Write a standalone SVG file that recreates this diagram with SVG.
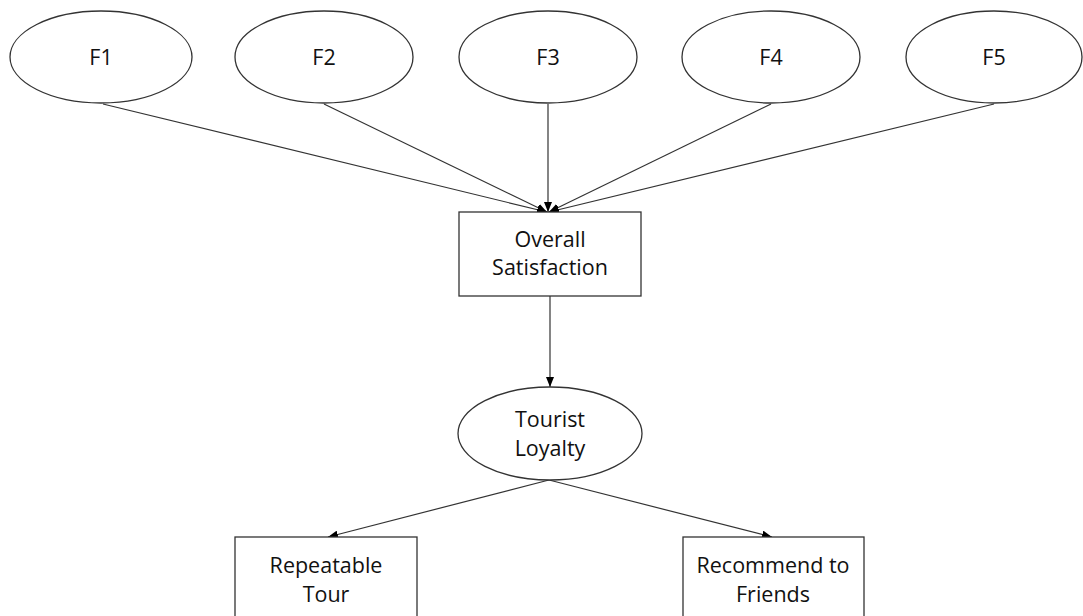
<svg xmlns="http://www.w3.org/2000/svg" width="1083" height="616" viewBox="0 0 1083 616">
<defs>
<marker id="arr" markerWidth="10" markerHeight="8" refX="10" refY="4" orient="auto" markerUnits="userSpaceOnUse">
<path d="M0,0 L10,4 L0,8 Z" fill="#000"/>
</marker>
<style>
.n{fill:#fff;stroke:#333;stroke-width:1.3}
.t{font-family:"Open Sans","Liberation Sans",sans-serif;font-size:21.5px;fill:#111;text-anchor:middle}
.c{stroke:#333;stroke-width:1.2;fill:none;marker-end:url(#arr)}
</style>
</defs>
<rect width="1083" height="616" fill="#fff"/>
<g id="connectors">
<line class="c" x1="103" y1="104" x2="547" y2="212"/>
<line class="c" x1="324" y1="104" x2="547" y2="212"/>
<line class="c" x1="548" y1="104" x2="548" y2="212"/>
<line class="c" x1="771" y1="104" x2="549" y2="212"/>
<line class="c" x1="994" y1="104" x2="549" y2="212"/>
<line class="c" x1="550" y1="296" x2="550" y2="387"/>
<line class="c" x1="549" y1="480" x2="328" y2="537"/>
<line class="c" x1="549" y1="480" x2="772" y2="537"/>
</g>
<g id="F1"><ellipse class="n" cx="101" cy="57" rx="91" ry="46"/><text class="t" x="101" y="65">F1</text></g>
<g id="F2"><ellipse class="n" cx="324" cy="57" rx="89" ry="46"/><text class="t" x="324" y="65">F2</text></g>
<g id="F3"><ellipse class="n" cx="548" cy="57" rx="89" ry="46"/><text class="t" x="548" y="65">F3</text></g>
<g id="F4"><ellipse class="n" cx="771" cy="57" rx="89" ry="46"/><text class="t" x="771" y="65">F4</text></g>
<g id="F5"><ellipse class="n" cx="994" cy="57" rx="88" ry="46"/><text class="t" x="994" y="65">F5</text></g>
<g id="overall"><rect class="n" x="459" y="212" width="182" height="84"/><text class="t" x="550" y="247">Overall</text><text class="t" x="550" y="275">Satisfaction</text></g>
<g id="loyalty"><ellipse class="n" cx="550" cy="433.5" rx="92" ry="46.5"/><text class="t" x="550" y="427">Tourist</text><text class="t" x="550" y="456">Loyalty</text></g>
<g id="repeat"><rect class="n" x="235" y="537" width="182" height="90"/><text class="t" x="326" y="573">Repeatable</text><text class="t" x="326" y="602">Tour</text></g>
<g id="recommend"><rect class="n" x="683" y="537" width="181" height="90"/><text class="t" x="773" y="573">Recommend to</text><text class="t" x="773" y="602">Friends</text></g>
</svg>
